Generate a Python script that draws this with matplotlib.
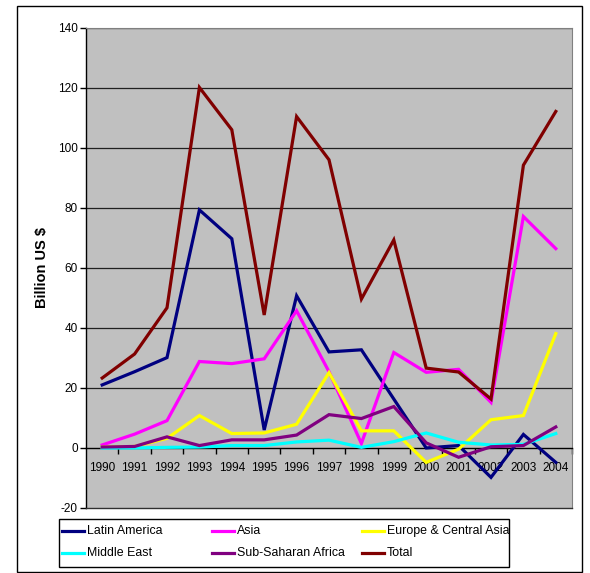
import matplotlib
matplotlib.use("Agg")
import matplotlib.pyplot as plt
from matplotlib.patches import Rectangle
from matplotlib.lines import Line2D

years = ["1990", "1991", "1992", "1993", "1994", "1995", "1996", "1997",
         "1998", "1999", "2000", "2001", "2002", "2003", "2004"]

latin_america = [21.0, 25.4, 30.1, 79.3, 69.7, 6.0, 50.7, 32.0,
                 32.7, 16.3, 0.0, 0.8, -9.8, 4.5, -4.8]
asia = [1.0, 4.6, 9.1, 28.8, 28.1, 29.7, 45.7, 25.4,
        1.5, 31.8, 25.2, 26.2, 15.2, 77.1, 66.4]
europe_central_asia = [0.3, 0.5, 3.2, 10.8, 4.8, 5.0, 7.9, 25.1,
                       5.7, 5.7, -4.8, -0.4, 9.4, 10.8, 38.1]
middle_east = [0.0, 0.0, 0.2, 0.3, 0.8, 0.8, 2.0, 2.6,
               0.2, 2.1, 5.0, 1.9, 1.0, 1.2, 4.8]
sub_saharan_africa = [0.3, 0.5, 3.7, 0.8, 2.7, 2.7, 4.3, 11.1,
                      9.8, 13.8, 1.7, -3.1, 0.4, 0.8, 7.0]
total = [23.3, 31.3, 46.7, 120.1, 106.0, 44.3, 110.4, 96.0,
         49.6, 69.3, 26.6, 25.3, 16.3, 94.2, 112.1]

series = [
    ("Latin America", latin_america, "#000080"),
    ("Asia", asia, "#FF00FF"),
    ("Europe & Central Asia", europe_central_asia, "#FFFF00"),
    ("Middle East", middle_east, "#00FFFF"),
    ("Sub-Saharan Africa", sub_saharan_africa, "#800080"),
    ("Total", total, "#800000"),
]

FONT = "Liberation Sans"
plt.rcParams["font.family"] = [FONT, "DejaVu Sans"]
plt.rcParams["axes.unicode_minus"] = False

W, H = 590, 573
fig = plt.figure(figsize=(W / 100, H / 100), dpi=100)


def fx(px):
    return px / W


def fy(py):
    return 1 - py / H


# outer chart border
fig.patches.append(Rectangle((fx(17), fy(572)), 565 / W, 566 / H,
                             transform=fig.transFigure, fill=False,
                             edgecolor="black", linewidth=1.0))

ax = fig.add_axes([fx(86), fy(508), 486 / W, 480.3 / H])
ax.set_facecolor("#C0C0C0")

x = list(range(len(years)))
for name, vals, color in series:
    ax.plot(x, vals, color=color, linewidth=2.3, label=name,
            solid_joinstyle="miter", zorder=3)

ax.set_xlim(-0.5, len(years) - 0.5)
ax.set_ylim(-20, 140)
ax.set_yticks(range(-20, 141, 20))
ax.tick_params(axis="y", direction="out", length=4, width=1,
               pad=2, labelsize=8.5, colors="black")
for yv in range(20, 141, 20):
    ax.axhline(yv, color="#202020", linewidth=0.9, zorder=1)

# category axis crossing at zero
ax.spines["bottom"].set_position(("data", 0))
ax.spines["bottom"].set_color("black")
ax.spines["bottom"].set_linewidth(1.0)
ax.spines["left"].set_color("black")
ax.spines["left"].set_linewidth(1.0)
ax.spines["top"].set_color("#808080")
ax.spines["right"].set_color("#808080")
ax.plot([0, 1], [0, 0], transform=ax.transAxes, color="#303030",
        linewidth=1.0, clip_on=False, zorder=4)

ax.set_xticks(x)
ax.set_xticklabels(years)
ax.set_xticks([i + 0.5 for i in range(len(years))], minor=True)
ax.tick_params(axis="x", which="major", length=0, pad=10, labelsize=8.5)
ax.tick_params(axis="x", which="minor", direction="out", length=4, width=1)

fig.text(fx(42), fy(268), "Billion US $", rotation=90, ha="center",
         va="center", fontsize=10.5, fontweight="bold")

# legend box: three equal-width columns, filled row by row
fig.patches.append(Rectangle((fx(59), fy(567)), 450 / W, 48 / H,
                             transform=fig.transFigure, facecolor="white",
                             edgecolor="black", linewidth=1.0))
col_x = [62, 212, 362]
row_y = [531, 553]
for i, (name, _, color) in enumerate(series):
    cx = col_x[i % 3]
    ry = row_y[i // 3]
    fig.add_artist(Line2D([fx(cx), fx(cx + 22)], [fy(ry), fy(ry)],
                          transform=fig.transFigure, color=color,
                          linewidth=2.3))
    fig.text(fx(cx + 25), fy(ry), name, ha="left", va="center",
             fontsize=8.9)

fig.savefig("out.png", dpi=100)
